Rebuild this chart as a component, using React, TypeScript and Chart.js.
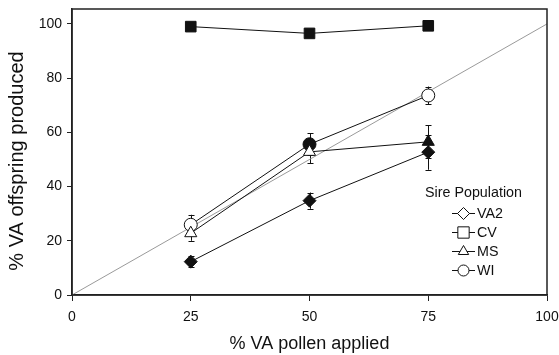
import React, { useEffect, useRef } from "react";
import { Chart, registerables } from "chart.js";

Chart.register(...registerables);

const xValues = [25, 50, 75];
const seriesLabels = ["VA2", "CV", "MS", "WI"];
const va2Values = [12.3, 34.8, 52.7];
const va2Err = [2.0, 3.0, 6.5];
const cvValues = [99.0, 96.5, 99.3];
const cvErr = [0, 0, 0];
const msValues = [22.8, 52.8, 56.5];
const msErr = [2.8, 4.2, 6.1];
const wiValues = [25.9, 55.6, 73.6];
const wiErr = [3.7, 4.1, 3.3];
const va2Filled = [true, true, true];
const cvFilled = [true, true, true];
const msFilled = [false, false, true];
const wiFilled = [false, true, false];
const pointStyles = ["rectRot", "rect", "triangle", "circle"];
const xTicks = [0, 25, 50, 75, 100];
const yTicks = [0, 20, 40, 60, 80, 100];
const diagonal = [0, 100];
const legendTitle = "Sire Population";
const xTitle = "% VA pollen applied";
const yTitle = "% VA offspring produced";

const INK = "#111111";
const FONT = "'Liberation Sans', Arial, Helvetica, sans-serif";

function drawMarker(ctx: CanvasRenderingContext2D, style: string, r: number, x: number, y: number) {
  ctx.beginPath();
  if (style === "rectRot") {
    ctx.moveTo(x - r, y);
    ctx.lineTo(x, y - r);
    ctx.lineTo(x + r, y);
    ctx.lineTo(x, y + r);
    ctx.closePath();
  } else if (style === "rect") {
    const s = r * Math.SQRT1_2;
    ctx.rect(x - s, y - s, 2 * s, 2 * s);
  } else if (style === "triangle") {
    const h = r * 1.5;
    const side = (h * 2) / Math.sqrt(3);
    ctx.moveTo(x, y - r);
    ctx.lineTo(x + side / 2, y - r + h);
    ctx.lineTo(x - side / 2, y - r + h);
    ctx.closePath();
  } else {
    ctx.arc(x, y, r, 0, Math.PI * 2);
  }
  ctx.fill();
  ctx.stroke();
}

export default function App() {
  const ref = useRef<HTMLCanvasElement | null>(null);

  useEffect(() => {
    const canvas = ref.current;
    if (!canvas) return;

    const values = [va2Values, cvValues, msValues, wiValues];
    const errs = [va2Err, cvErr, msErr, wiErr];
    const filled = [va2Filled, cvFilled, msFilled, wiFilled];
    const radii = [6.5, 7.5, 7, 6.5];

    const datasets: any[] = seriesLabels.map((label, i) => ({
      label,
      data: xValues.map((x, j) => ({ x, y: values[i][j] })),
      borderColor: INK,
      borderWidth: 1,
      pointStyle: pointStyles[i],
      pointRadius: radii[i],
      pointBorderWidth: 1,
      pointBorderColor: INK,
      pointBackgroundColor: filled[i].map((f) => (f ? INK : "#ffffff")),
      errors: errs[i],
      order: 1,
    }));
    datasets.push({
      label: "diag",
      data: diagonal.map((v) => ({ x: v, y: v })),
      borderColor: "#9a9a9a",
      borderWidth: 1,
      pointRadius: 0,
      order: 10,
    });

    const errorBars = {
      id: "errorBars",
      beforeDatasetsDraw(chart: any) {
        const ctx = chart.ctx;
        const xs = chart.scales.x;
        const ys = chart.scales.y;
        ctx.save();
        ctx.strokeStyle = INK;
        ctx.lineWidth = 1;
        chart.data.datasets.forEach((ds: any) => {
          if (!ds.errors) return;
          ds.data.forEach((p: any, j: number) => {
            const e = ds.errors[j];
            if (!e) return;
            const px = Math.round(xs.getPixelForValue(p.x)) + 0.5;
            const y1 = ys.getPixelForValue(p.y - e);
            const y2 = ys.getPixelForValue(p.y + e);
            ctx.beginPath();
            ctx.moveTo(px, y1);
            ctx.lineTo(px, y2);
            ctx.moveTo(px - 3, Math.round(y1) + 0.5);
            ctx.lineTo(px + 3, Math.round(y1) + 0.5);
            ctx.moveTo(px - 3, Math.round(y2) + 0.5);
            ctx.lineTo(px + 3, Math.round(y2) + 0.5);
            ctx.stroke();
          });
        });
        ctx.restore();
      },
    };

    const frame = {
      id: "frame",
      afterDraw(chart: any) {
        const { left, right, top, bottom } = chart.chartArea;
        const ctx = chart.ctx;
        ctx.save();
        ctx.strokeStyle = "#222222";
        ctx.lineWidth = 1.5;
        ctx.strokeRect(left, top, right - left, bottom - top);
        // y axis title
        ctx.fillStyle = INK;
        ctx.font = `20px ${FONT}`;
        ctx.textAlign = "center";
        ctx.textBaseline = "middle";
        ctx.translate(17, 161);
        ctx.rotate(-Math.PI / 2);
        ctx.fillText(yTitle, 0, 0);
        ctx.restore();
      },
    };

    const legend = {
      id: "customLegend",
      afterDraw(chart: any) {
        const ctx = chart.ctx;
        ctx.save();
        ctx.font = `14.3px ${FONT}`;
        ctx.fillStyle = INK;
        ctx.textBaseline = "middle";
        ctx.textAlign = "left";
        ctx.fillText(legendTitle, 425, 193);
        seriesLabels.forEach((label, i) => {
          const y = 213 + i * 19;
          ctx.strokeStyle = INK;
          ctx.lineWidth = 1;
          ctx.beginPath();
          ctx.moveTo(452, y + 0.5);
          ctx.lineTo(475, y + 0.5);
          ctx.stroke();
          ctx.fillStyle = "#ffffff";
          const r = pointStyles[i] === "rect" ? 8 : pointStyles[i] === "circle" ? 5.5 : 6;
          drawMarker(ctx, pointStyles[i], r, 463.5, y + 0.5);
          ctx.fillStyle = INK;
          ctx.fillText(label, 477, y + 1);
        });
        ctx.restore();
      },
    };

    const chart = new Chart(canvas, {
      type: "line",
      data: { datasets },
      options: {
        animation: false,
        responsive: false,
        maintainAspectRatio: false,
        layout: { padding: { left: 0, right: 12, top: 9, bottom: 0 } },
        plugins: {
          legend: { display: false },
          tooltip: { enabled: false },
        },
        scales: {
          x: {
            type: "linear",
            min: 0,
            max: 100,
            afterBuildTicks: (s: any) => {
              s.ticks = xTicks.map((v) => ({ value: v }));
            },
            afterFit: (s: any) => {
              s.height = 60;
              s.paddingLeft = 0;
              s.paddingRight = 0;
            },
            ticks: {
              color: INK,
              font: { family: FONT, size: 14 },
              padding: 8,
              maxRotation: 0,
            },
            grid: {
              display: true,
              drawOnChartArea: false,
              drawTicks: true,
              tickLength: 6,
              color: "#222222",
            },
            border: { display: true, color: "#222222", width: 1.5 },
            title: {
              display: true,
              text: xTitle,
              color: INK,
              font: { family: FONT, size: 18 },
              padding: { top: 0, bottom: 0 },
            },
          },
          y: {
            type: "linear",
            min: 0,
            max: 105.5,
            afterBuildTicks: (s: any) => {
              s.ticks = yTicks.map((v) => ({ value: v }));
            },
            afterFit: (s: any) => {
              s.width = 72;
              s.paddingTop = 0;
              s.paddingBottom = 0;
            },
            ticks: {
              color: INK,
              font: { family: FONT, size: 14 },
              padding: 5,
            },
            grid: {
              display: true,
              drawOnChartArea: false,
              drawTicks: true,
              tickLength: 5,
              color: "#222222",
            },
            border: { display: true, color: "#222222", width: 1.5 },
          },
        },
      },
      plugins: [errorBars, frame, legend],
    } as any);

    return () => chart.destroy();
  }, []);

  return (
    <div style={{ position: "fixed", left: 0, top: 0, width: 559, height: 355, background: "#ffffff" }}>
      <canvas ref={ref} width={559} height={355} style={{ display: "block" }} />
    </div>
  );
}
